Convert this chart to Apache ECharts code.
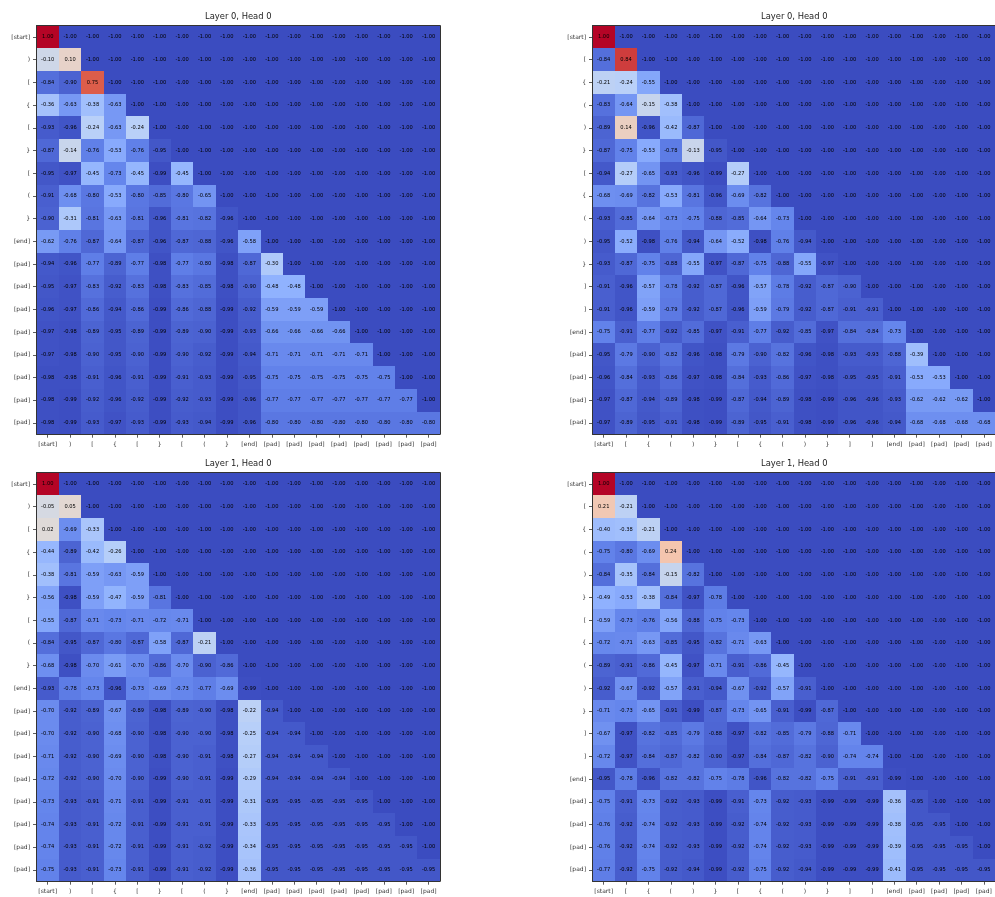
<!DOCTYPE html>
<html><head><meta charset="utf-8">
<style>html,body{margin:0;padding:0;background:#fff}#c{width:995px;height:897px}</style>
<script src="https://cdn.jsdelivr.net/npm/echarts@6/dist/echarts.min.js"></script>
</head><body><div id="c"></div>
<script>
const labelsA = ["[start]",")","[","{","[","}","[","(","}","[end]","[pad]","[pad]","[pad]","[pad]","[pad]","[pad]","[pad]","[pad]"];
const labelsB = ["[start]","[","{","(",")","}","[","{","(",")","}","]","]","[end]","[pad]","[pad]","[pad]","[pad]"];
const titles = ["Layer 0, Head 0","Layer 0, Head 0","Layer 1, Head 0","Layer 1, Head 0"];
const coolwarm = ["#3b4cc0","#6282ea","#8db0fe","#b7cff9","#dddcdc","#f5c4ac","#f39475","#dc5d4a","#b40426"];

const layer0A = [
[1,-1,-1,-1,-1,-1,-1,-1,-1,-1,-1,-1,-1,-1,-1,-1,-1,-1],
[-.10,.10,-1,-1,-1,-1,-1,-1,-1,-1,-1,-1,-1,-1,-1,-1,-1,-1],
[-.84,-.90,.75,-1,-1,-1,-1,-1,-1,-1,-1,-1,-1,-1,-1,-1,-1,-1],
[-.36,-.63,-.38,-.63,-1,-1,-1,-1,-1,-1,-1,-1,-1,-1,-1,-1,-1,-1],
[-.93,-.96,-.24,-.63,-.24,-1,-1,-1,-1,-1,-1,-1,-1,-1,-1,-1,-1,-1],
[-.87,-.14,-.76,-.53,-.76,-.95,-1,-1,-1,-1,-1,-1,-1,-1,-1,-1,-1,-1],
[-.95,-.97,-.45,-.73,-.45,-.99,-.45,-1,-1,-1,-1,-1,-1,-1,-1,-1,-1,-1],
[-.91,-.68,-.80,-.53,-.80,-.85,-.80,-.65,-1,-1,-1,-1,-1,-1,-1,-1,-1,-1],
[-.90,-.31,-.81,-.63,-.81,-.96,-.81,-.82,-.96,-1,-1,-1,-1,-1,-1,-1,-1,-1],
[-.62,-.76,-.87,-.64,-.87,-.96,-.87,-.88,-.96,-.58,-1,-1,-1,-1,-1,-1,-1,-1],
[-.94,-.96,-.77,-.89,-.77,-.98,-.77,-.80,-.98,-.87,-.30,-1,-1,-1,-1,-1,-1,-1],
[-.95,-.97,-.83,-.92,-.83,-.98,-.83,-.85,-.98,-.90,-.48,-.48,-1,-1,-1,-1,-1,-1],
[-.96,-.97,-.86,-.94,-.86,-.99,-.86,-.88,-.99,-.92,-.59,-.59,-.59,-1,-1,-1,-1,-1],
[-.97,-.98,-.89,-.95,-.89,-.99,-.89,-.90,-.99,-.93,-.66,-.66,-.66,-.66,-1,-1,-1,-1],
[-.97,-.98,-.90,-.95,-.90,-.99,-.90,-.92,-.99,-.94,-.71,-.71,-.71,-.71,-.71,-1,-1,-1],
[-.98,-.98,-.91,-.96,-.91,-.99,-.91,-.93,-.99,-.95,-.75,-.75,-.75,-.75,-.75,-.75,-1,-1],
[-.98,-.99,-.92,-.96,-.92,-.99,-.92,-.93,-.99,-.96,-.77,-.77,-.77,-.77,-.77,-.77,-.77,-1],
[-.98,-.99,-.93,-.97,-.93,-.99,-.93,-.94,-.99,-.96,-.80,-.80,-.80,-.80,-.80,-.80,-.80,-.80]
];
const layer0B = [
[1,-1,-1,-1,-1,-1,-1,-1,-1,-1,-1,-1,-1,-1,-1,-1,-1,-1],
[-.84,.84,-1,-1,-1,-1,-1,-1,-1,-1,-1,-1,-1,-1,-1,-1,-1,-1],
[-.21,-.24,-.55,-1,-1,-1,-1,-1,-1,-1,-1,-1,-1,-1,-1,-1,-1,-1],
[-.83,-.64,-.15,-.38,-1,-1,-1,-1,-1,-1,-1,-1,-1,-1,-1,-1,-1,-1],
[-.89,.14,-.96,-.42,-.87,-1,-1,-1,-1,-1,-1,-1,-1,-1,-1,-1,-1,-1],
[-.87,-.75,-.53,-.78,-.13,-.95,-1,-1,-1,-1,-1,-1,-1,-1,-1,-1,-1,-1],
[-.94,-.27,-.65,-.93,-.96,-.99,-.27,-1,-1,-1,-1,-1,-1,-1,-1,-1,-1,-1],
[-.68,-.69,-.82,-.53,-.81,-.96,-.69,-.82,-1,-1,-1,-1,-1,-1,-1,-1,-1,-1],
[-.93,-.85,-.64,-.73,-.75,-.88,-.85,-.64,-.73,-1,-1,-1,-1,-1,-1,-1,-1,-1],
[-.95,-.52,-.98,-.76,-.94,-.64,-.52,-.98,-.76,-.94,-1,-1,-1,-1,-1,-1,-1,-1],
[-.93,-.87,-.75,-.88,-.55,-.97,-.87,-.75,-.88,-.55,-.97,-1,-1,-1,-1,-1,-1,-1],
[-.91,-.96,-.57,-.78,-.92,-.87,-.96,-.57,-.78,-.92,-.87,-.90,-1,-1,-1,-1,-1,-1],
[-.91,-.96,-.59,-.79,-.92,-.87,-.96,-.59,-.79,-.92,-.87,-.91,-.91,-1,-1,-1,-1,-1],
[-.75,-.91,-.77,-.92,-.85,-.97,-.91,-.77,-.92,-.85,-.97,-.84,-.84,-.73,-1,-1,-1,-1],
[-.95,-.79,-.90,-.82,-.96,-.98,-.79,-.90,-.82,-.96,-.98,-.93,-.93,-.88,-.39,-1,-1,-1],
[-.96,-.84,-.93,-.86,-.97,-.98,-.84,-.93,-.86,-.97,-.98,-.95,-.95,-.91,-.53,-.53,-1,-1],
[-.97,-.87,-.94,-.89,-.98,-.99,-.87,-.94,-.89,-.98,-.99,-.96,-.96,-.93,-.62,-.62,-.62,-1],
[-.97,-.89,-.95,-.91,-.98,-.99,-.89,-.95,-.91,-.98,-.99,-.96,-.96,-.94,-.68,-.68,-.68,-.68]
];
const layer1A = [
[1,-1,-1,-1,-1,-1,-1,-1,-1,-1,-1,-1,-1,-1,-1,-1,-1,-1],
[-.05,.05,-1,-1,-1,-1,-1,-1,-1,-1,-1,-1,-1,-1,-1,-1,-1,-1],
[.02,-.69,-.33,-1,-1,-1,-1,-1,-1,-1,-1,-1,-1,-1,-1,-1,-1,-1],
[-.44,-.89,-.42,-.26,-1,-1,-1,-1,-1,-1,-1,-1,-1,-1,-1,-1,-1,-1],
[-.38,-.81,-.59,-.63,-.59,-1,-1,-1,-1,-1,-1,-1,-1,-1,-1,-1,-1,-1],
[-.56,-.98,-.59,-.47,-.59,-.81,-1,-1,-1,-1,-1,-1,-1,-1,-1,-1,-1,-1],
[-.55,-.87,-.71,-.73,-.71,-.72,-.71,-1,-1,-1,-1,-1,-1,-1,-1,-1,-1,-1],
[-.84,-.95,-.87,-.80,-.87,-.58,-.87,-.21,-1,-1,-1,-1,-1,-1,-1,-1,-1,-1],
[-.68,-.98,-.70,-.61,-.70,-.86,-.70,-.90,-.86,-1,-1,-1,-1,-1,-1,-1,-1,-1],
[-.93,-.78,-.73,-.96,-.73,-.69,-.73,-.77,-.69,-.99,-1,-1,-1,-1,-1,-1,-1,-1],
[-.70,-.92,-.89,-.67,-.89,-.98,-.89,-.90,-.98,-.22,-.94,-1,-1,-1,-1,-1,-1,-1],
[-.70,-.92,-.90,-.68,-.90,-.98,-.90,-.90,-.98,-.25,-.94,-.94,-1,-1,-1,-1,-1,-1],
[-.71,-.92,-.90,-.69,-.90,-.98,-.90,-.91,-.98,-.27,-.94,-.94,-.94,-1,-1,-1,-1,-1],
[-.72,-.92,-.90,-.70,-.90,-.99,-.90,-.91,-.99,-.29,-.94,-.94,-.94,-.94,-1,-1,-1,-1],
[-.73,-.93,-.91,-.71,-.91,-.99,-.91,-.91,-.99,-.31,-.95,-.95,-.95,-.95,-.95,-1,-1,-1],
[-.74,-.93,-.91,-.72,-.91,-.99,-.91,-.91,-.99,-.33,-.95,-.95,-.95,-.95,-.95,-.95,-1,-1],
[-.74,-.93,-.91,-.72,-.91,-.99,-.91,-.92,-.99,-.34,-.95,-.95,-.95,-.95,-.95,-.95,-.95,-1],
[-.75,-.93,-.91,-.73,-.91,-.99,-.91,-.92,-.99,-.36,-.95,-.95,-.95,-.95,-.95,-.95,-.95,-.95]
];
const layer1B = [
[1,-1,-1,-1,-1,-1,-1,-1,-1,-1,-1,-1,-1,-1,-1,-1,-1,-1],
[.21,-.21,-1,-1,-1,-1,-1,-1,-1,-1,-1,-1,-1,-1,-1,-1,-1,-1],
[-.40,-.38,-.21,-1,-1,-1,-1,-1,-1,-1,-1,-1,-1,-1,-1,-1,-1,-1],
[-.75,-.80,-.69,.24,-1,-1,-1,-1,-1,-1,-1,-1,-1,-1,-1,-1,-1,-1],
[-.84,-.35,-.84,-.15,-.82,-1,-1,-1,-1,-1,-1,-1,-1,-1,-1,-1,-1,-1],
[-.49,-.53,-.38,-.84,-.97,-.78,-1,-1,-1,-1,-1,-1,-1,-1,-1,-1,-1,-1],
[-.59,-.73,-.76,-.56,-.88,-.75,-.73,-1,-1,-1,-1,-1,-1,-1,-1,-1,-1,-1],
[-.72,-.71,-.63,-.85,-.95,-.82,-.71,-.63,-1,-1,-1,-1,-1,-1,-1,-1,-1,-1],
[-.89,-.91,-.86,-.45,-.97,-.71,-.91,-.86,-.45,-1,-1,-1,-1,-1,-1,-1,-1,-1],
[-.92,-.67,-.92,-.57,-.91,-.94,-.67,-.92,-.57,-.91,-1,-1,-1,-1,-1,-1,-1,-1],
[-.71,-.73,-.65,-.91,-.99,-.87,-.73,-.65,-.91,-.99,-.87,-1,-1,-1,-1,-1,-1,-1],
[-.67,-.97,-.82,-.85,-.79,-.88,-.97,-.82,-.85,-.79,-.88,-.71,-1,-1,-1,-1,-1,-1],
[-.72,-.97,-.84,-.87,-.82,-.90,-.97,-.84,-.87,-.82,-.90,-.74,-.74,-1,-1,-1,-1,-1],
[-.95,-.78,-.96,-.82,-.82,-.75,-.78,-.96,-.82,-.82,-.75,-.91,-.91,-.99,-1,-1,-1,-1],
[-.75,-.91,-.73,-.92,-.93,-.99,-.91,-.73,-.92,-.93,-.99,-.99,-.99,-.36,-.95,-1,-1,-1],
[-.76,-.92,-.74,-.92,-.93,-.99,-.92,-.74,-.92,-.93,-.99,-.99,-.99,-.38,-.95,-.95,-1,-1],
[-.76,-.92,-.74,-.92,-.93,-.99,-.92,-.74,-.92,-.93,-.99,-.99,-.99,-.39,-.95,-.95,-.95,-1],
[-.77,-.92,-.75,-.92,-.94,-.99,-.92,-.75,-.92,-.94,-.99,-.99,-.99,-.41,-.95,-.95,-.95,-.95]
];

const panels = [
  {m: layer0A, lab: labelsA, left: 36.5,  top: 25.7},
  {m: layer0B, lab: labelsB, left: 592.5, top: 25.7},
  {m: layer1A, lab: labelsA, left: 36.5,  top: 472.7},
  {m: layer1B, lab: labelsB, left: 592.5, top: 472.7}
];
const W = 403.3, H = 408.5, FONT = 'DejaVu Sans';
const xLab = {fontSize: 6, fontFamily: FONT, color: '#333', interval: 0, margin: 7.5};
const yLab = {fontSize: 6, fontFamily: FONT, color: '#333', interval: 0, margin: 6.5};
const spine = {show: true, onZero: false, lineStyle: {color: '#333', width: 1}};
const tick = {show: true, length: 3.5, alignWithLabel: true, lineStyle: {color: '#333', width: .8}};

function renderCell(params, api) {
  const x = api.value(0), y = api.value(1), v = api.value(2);
  const c = api.coord([x, y]), s = api.size([1, 1]);
  const x0 = Math.round(c[0] - s[0] / 2), x1 = Math.round(c[0] + s[0] / 2);
  const y0 = Math.round(c[1] - s[1] / 2), y1 = Math.round(c[1] + s[1] / 2);
  return {type: 'group', children: [
    {type: 'rect', shape: {x: x0, y: y0, width: x1 - x0, height: y1 - y0},
     style: {fill: api.visual('color')}},
    {type: 'text', z2: 10, x: c[0], y: c[1], scaleX: .25, scaleY: .25,
     style: {text: v.toFixed(2), x: 0, y: 0, align: 'center', verticalAlign: 'middle',
      font: '20.5px "DejaVu Sans"', fill: '#000'}}
  ]};
}

const chart = echarts.init(document.getElementById('c'), null, {renderer: 'canvas'});
chart.setOption({
  animation: false,
  backgroundColor: '#fff',
  title: panels.map((p, i) => ({
    text: titles[i], left: p.left + 168.5, top: p.top - 13.2, padding: 0,
    textStyle: {fontSize: 8.4, fontWeight: 'normal', fontFamily: FONT, color: '#222'}
  })),
  grid: panels.map(p => ({left: p.left, top: p.top, width: W, height: H, containLabel: false})),
  xAxis: panels.flatMap((p, i) => [
    {type: 'category', gridIndex: i, data: p.lab, position: 'bottom', z: 5, axisLine: spine, axisTick: tick, axisLabel: xLab, splitLine: {show: false}},
    {type: 'category', gridIndex: i, data: p.lab, position: 'top', z: 5, axisLine: spine, axisTick: {show: false}, axisLabel: {show: false}, splitLine: {show: false}}
  ]),
  yAxis: panels.flatMap((p, i) => [
    {type: 'category', gridIndex: i, data: p.lab, inverse: true, position: 'left', z: 5, axisLine: spine, axisTick: tick, axisLabel: yLab, splitLine: {show: false}},
    {type: 'category', gridIndex: i, data: p.lab, inverse: true, position: 'right', z: 5, axisLine: spine, axisTick: {show: false}, axisLabel: {show: false}, splitLine: {show: false}}
  ]),
  visualMap: {show: false, type: 'continuous', min: -1, max: 1, dimension: 2, seriesIndex: [0, 1, 2, 3], inRange: {color: coolwarm}},
  series: panels.map((p, i) => ({
    type: 'custom',
    xAxisIndex: i * 2, yAxisIndex: i * 2,
    coordinateSystem: 'cartesian2d',
    data: p.m.flatMap((row, y) => row.map((v, x) => [x, y, v])),
    encode: {x: 0, y: 1},
    renderItem: renderCell,
    silent: true, z: 1, clip: false
  }))
});
</script></body></html>
